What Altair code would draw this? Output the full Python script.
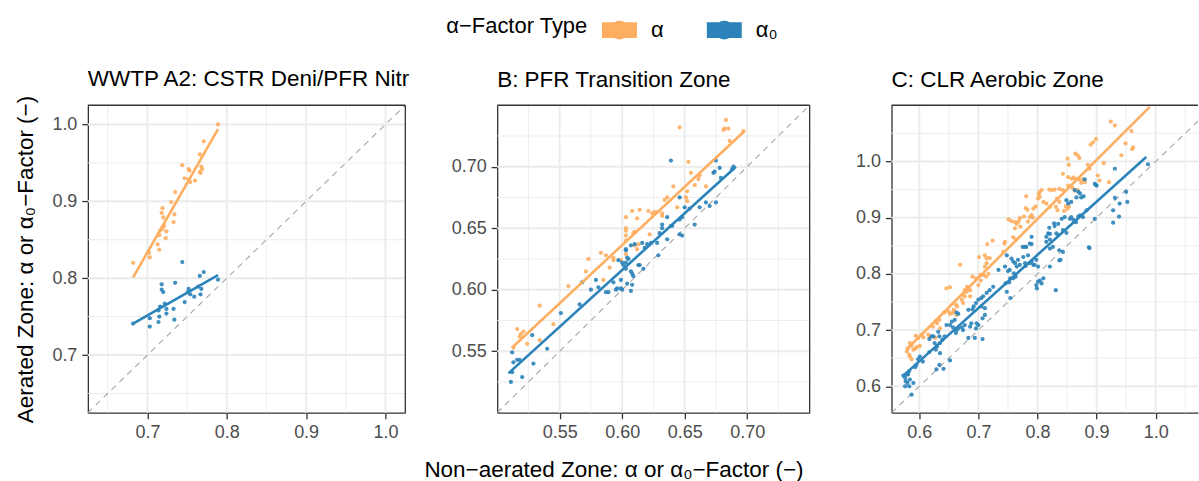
import altair as alt
import pandas as pd

FONT = "Liberation Sans"
TYPES = ["α", "α₀"]
COLORS = ["#FDAE61", "#2B83BA"]

# ---------------- Panel A ----------------
A_alpha = [(0.789,1.000),(0.771,0.978),(0.766,0.961),(0.744,0.947),(0.752,0.942),(0.753,0.940),
           (0.768,0.945),(0.769,0.942),(0.767,0.937),(0.766,0.938),(0.747,0.930),(0.760,0.927),
           (0.754,0.925),(0.752,0.929),(0.735,0.912),(0.730,0.899),(0.719,0.891),(0.718,0.885),
           (0.720,0.879),(0.734,0.883),(0.733,0.873),(0.721,0.868),(0.719,0.864),(0.716,0.862),
           (0.715,0.856),(0.724,0.861),(0.723,0.852),(0.713,0.844),(0.715,0.837),(0.702,0.833),
           (0.703,0.827),(0.682,0.820)]
A_alpha0 = [(0.744,0.821),(0.771,0.808),(0.766,0.803),(0.789,0.798),(0.735,0.794),(0.718,0.792),
            (0.718,0.785),(0.720,0.782),(0.764,0.789),(0.768,0.786),(0.767,0.779),(0.752,0.786),
            (0.754,0.779),(0.751,0.782),(0.759,0.776),(0.747,0.769),(0.722,0.767),(0.724,0.760),
            (0.716,0.763),(0.714,0.758),(0.733,0.760),(0.724,0.754),(0.703,0.748),(0.715,0.750),
            (0.714,0.743),(0.734,0.746),(0.682,0.741),(0.703,0.737)]
A_fit_alpha = [(0.682,0.801),(0.789,0.994)]
A_fit_alpha0 = [(0.682,0.741),(0.789,0.804)]

# ---------------- Panel B ----------------
B_alpha = [(0.646,0.732),(0.683,0.738),(0.681,0.730),(0.682,0.731),(0.685,0.731),(0.686,0.721),
           (0.697,0.729),(0.653,0.704),(0.655,0.695),(0.662,0.693),(0.661,0.690),(0.658,0.685),
           (0.667,0.684),(0.641,0.684),(0.634,0.673),(0.636,0.675),(0.652,0.680),(0.651,0.675),
           (0.652,0.672),(0.644,0.667),(0.632,0.660),(0.632,0.662),(0.628,0.663),(0.621,0.664),
           (0.624,0.662),(0.626,0.663),(0.608,0.664),(0.614,0.665),(0.612,0.658),(0.603,0.659),
           (0.603,0.650),(0.603,0.648),(0.603,0.644),(0.603,0.640),(0.609,0.646),(0.610,0.647),
           (0.622,0.645),(0.613,0.637),(0.612,0.633),(0.603,0.629),(0.610,0.636),(0.583,0.630),
           (0.587,0.628),(0.593,0.626),(0.593,0.624),(0.599,0.624),(0.590,0.618),(0.573,0.625),
           (0.571,0.615),(0.557,0.603),(0.585,0.608),(0.534,0.587),(0.545,0.572),(0.516,0.568),
           (0.521,0.566),(0.519,0.564),(0.518,0.562),(0.524,0.556),(0.534,0.559),(0.513,0.553)]
B_alpha0 = [(0.639,0.705),(0.675,0.705),(0.673,0.695),(0.674,0.696),(0.679,0.691),(0.678,0.699),
            (0.688,0.698),(0.689,0.700),(0.662,0.667),(0.654,0.666),(0.646,0.675),(0.648,0.659),
            (0.646,0.657),(0.650,0.667),(0.636,0.659),(0.658,0.653),(0.667,0.671),(0.675,0.671),
            (0.670,0.668),(0.639,0.652),(0.640,0.652),(0.646,0.645),(0.648,0.644),(0.636,0.641),
            (0.632,0.653),(0.632,0.650),(0.630,0.646),(0.629,0.628),(0.628,0.638),(0.623,0.638),
            (0.620,0.637),(0.618,0.634),(0.616,0.638),(0.613,0.620),(0.617,0.617),(0.614,0.620),
            (0.607,0.636),(0.610,0.637),(0.603,0.633),(0.603,0.632),(0.604,0.626),(0.603,0.622),
            (0.605,0.625),(0.597,0.624),(0.600,0.622),(0.601,0.620),(0.603,0.617),(0.608,0.613),
            (0.609,0.611),(0.607,0.615),(0.599,0.608),(0.604,0.605),(0.593,0.606),(0.596,0.601),
            (0.595,0.600),(0.600,0.600),(0.607,0.599),(0.599,0.601),(0.589,0.598),(0.587,0.598),
            (0.581,0.602),(0.579,0.608),(0.575,0.600),(0.566,0.588),(0.568,0.606),(0.551,0.581),
            (0.540,0.552),(0.528,0.563),(0.529,0.540),(0.516,0.543),(0.518,0.543),(0.513,0.541),
            (0.512,0.549),(0.520,0.529),(0.511,0.525),(0.512,0.533),(0.608,0.604)]
B_fit_alpha = [(0.512,0.553),(0.698,0.729)]
B_fit_alpha0 = [(0.509,0.532),(0.691,0.700)]

# ---------------- Panel C ----------------
C_alpha = [(0.924,1.071),(0.931,1.064),(0.959,1.054),(0.962,1.025),(0.960,1.022),(0.949,1.032),
           (0.942,1.011),(0.899,1.040),(0.894,1.034),(0.890,1.030),(0.868,1.011),(0.871,1.006),
           (0.864,1.014),(0.851,1.005),(0.853,0.994),(0.885,0.994),(0.888,0.987),(0.912,0.997),
           (0.902,0.975),(0.921,0.963),(0.852,0.972),(0.858,0.969),(0.861,0.971),(0.866,0.969),
           (0.870,0.968),(0.877,0.968),(0.880,0.963),(0.874,0.962),(0.905,0.966),(0.843,0.978),
           (0.852,0.957),(0.859,0.953),(0.863,0.948),(0.868,0.949),(0.843,0.949),(0.829,0.950),
           (0.837,0.951),(0.820,0.950),(0.824,0.949),(0.804,0.946),(0.807,0.949),(0.781,0.938),
           (0.802,0.942),(0.804,0.937),(0.801,0.934),(0.810,0.928),(0.815,0.925),(0.833,0.934),
           (0.837,0.928),(0.834,0.913),(0.848,0.920),(0.851,0.916),(0.845,0.912),(0.853,0.920),
           (0.831,0.919),(0.821,0.919),(0.797,0.920),(0.793,0.916),(0.780,0.917),(0.783,0.914),
           (0.777,0.902),(0.770,0.899),(0.751,0.897),(0.756,0.894),(0.768,0.893),(0.762,0.892),
           (0.765,0.889),(0.790,0.905),(0.792,0.900),(0.787,0.901),(0.784,0.893),(0.771,0.884),
           (0.762,0.881),(0.759,0.865),(0.764,0.861),(0.744,0.854),(0.724,0.859),(0.715,0.853),
           (0.745,0.857),(0.742,0.839),(0.711,0.833),(0.714,0.828),(0.719,0.828),(0.714,0.819),
           (0.711,0.813),(0.701,0.830),(0.708,0.798),(0.713,0.795),(0.717,0.800),(0.703,0.798),
           (0.669,0.816),(0.690,0.795),(0.696,0.792),(0.704,0.788),(0.700,0.780),(0.681,0.777),
           (0.683,0.774),(0.677,0.771),(0.680,0.768),(0.686,0.771),(0.674,0.763),(0.677,0.760),
           (0.646,0.774),(0.652,0.776),(0.672,0.754),(0.674,0.748),(0.686,0.760),(0.662,0.745),
           (0.664,0.742),(0.658,0.736),(0.660,0.733),(0.655,0.730),(0.649,0.733),(0.652,0.729),
           (0.663,0.727),(0.628,0.715),(0.630,0.712),(0.635,0.703),(0.627,0.686),(0.615,0.692),
           (0.618,0.689),(0.604,0.692),(0.607,0.687),(0.594,0.690),(0.598,0.686),(0.601,0.672),
           (0.596,0.670),(0.593,0.667),(0.584,0.677),(0.587,0.672),(0.581,0.668),(0.579,0.662),
           (0.583,0.656),(0.587,0.648),(0.584,0.653),(0.590,0.665),(0.634,0.718),(0.642,0.731),
           (0.623,0.706)]
C_alpha0 = [(0.987,0.995),(0.931,0.987),(0.950,0.946),(0.928,0.913),(0.938,0.902),(0.952,0.928),
            (0.928,0.891),(0.887,0.847),(0.897,0.898),(0.897,0.960),(0.900,0.957),(0.880,0.968),
            (0.863,0.949),(0.869,0.946),(0.872,0.943),(0.849,0.931),(0.852,0.925),(0.857,0.928),
            (0.878,0.938),(0.874,0.936),(0.866,0.936),(0.883,0.913),(0.872,0.904),(0.877,0.901),
            (0.869,0.902),(0.865,0.892),(0.861,0.896),(0.857,0.901),(0.855,0.898),(0.846,0.901),
            (0.841,0.898),(0.835,0.889),(0.828,0.890),(0.820,0.882),(0.843,0.878),(0.849,0.873),
            (0.832,0.872),(0.835,0.869),(0.829,0.885),(0.818,0.872),(0.821,0.871),(0.815,0.866),
            (0.821,0.861),(0.815,0.857),(0.790,0.866),(0.787,0.854),(0.790,0.853),(0.779,0.848),
            (0.781,0.848),(0.775,0.848),(0.776,0.830),(0.784,0.833),(0.779,0.819),(0.780,0.814),
            (0.790,0.822),(0.787,0.819),(0.793,0.816),(0.821,0.845),(0.826,0.848),(0.837,0.842),
            (0.843,0.839),(0.839,0.825),(0.798,0.825),(0.795,0.816),(0.801,0.813),(0.810,0.792),
            (0.804,0.788),(0.801,0.786),(0.807,0.783),(0.798,0.780),(0.799,0.774),(0.821,0.813),
            (0.831,0.771),(0.748,0.833),(0.756,0.827),(0.759,0.822),(0.762,0.819),(0.767,0.825),
            (0.770,0.816),(0.765,0.813),(0.745,0.813),(0.753,0.807),(0.750,0.805),(0.734,0.807),
            (0.760,0.801),(0.763,0.795),(0.759,0.792),(0.754,0.792),(0.752,0.785),(0.746,0.783),
            (0.748,0.768),(0.754,0.757),(0.725,0.777),(0.719,0.771),(0.714,0.766),(0.708,0.760),
            (0.705,0.757),(0.700,0.754),(0.696,0.748),(0.692,0.742),(0.690,0.737),(0.705,0.742),
            (0.711,0.739),(0.711,0.727),(0.707,0.721),(0.697,0.712),(0.700,0.709),(0.696,0.703),
            (0.688,0.712),(0.686,0.706),(0.683,0.736),(0.694,0.686),(0.707,0.684),(0.677,0.709),
            (0.672,0.705),(0.674,0.700),(0.666,0.703),(0.663,0.700),(0.662,0.695),(0.657,0.705),
            (0.660,0.718),(0.666,0.729),(0.663,0.731),(0.652,0.709),(0.655,0.715),(0.646,0.709),
            (0.643,0.689),(0.639,0.683),(0.635,0.677),(0.632,0.697),(0.634,0.689),(0.624,0.689),
            (0.621,0.689),(0.617,0.684),(0.626,0.677),(0.630,0.671),(0.628,0.665),(0.617,0.661),
            (0.635,0.659),(0.652,0.646),(0.634,0.638),(0.629,0.630),(0.641,0.631),(0.601,0.653),
            (0.598,0.648),(0.606,0.644),(0.595,0.638),(0.593,0.634),(0.583,0.627),(0.581,0.621),
            (0.579,0.621),(0.573,0.619),(0.576,0.615),(0.577,0.609),(0.580,0.606),(0.576,0.600),
            (0.583,0.600),(0.584,0.612),(0.587,0.585),(0.590,0.606),(0.683,0.686),(0.939,0.925),
            (0.931,0.935),(0.899,0.958),(0.888,0.846),(0.837,0.824)]
C_fit_alpha = [(0.578,0.665),(0.990,1.097)]
C_fit_alpha0 = [(0.573,0.619),(0.984,1.008)]

# axis ranges (x, y), ticks and grid values per panel
A_xrange = [0.625, 1.025]
A_yrange = [0.625, 1.025]
A_major = [0.7, 0.8, 0.9, 1.0]
A_minor = [0.65, 0.75, 0.85, 0.95]
B_xrange = [0.50, 0.75]
B_yrange = [0.50, 0.75]
B_major = [0.55, 0.60, 0.65, 0.70]
B_minor = [0.525, 0.575, 0.625, 0.675, 0.725]
C_xrange = [0.553, 1.0716]   # the right part of panel C lies outside the picture
C_yrange = [0.553, 1.10]
C_major = [0.6, 0.7, 0.8, 0.9, 1.0]
C_minor = [0.65, 0.75, 0.85, 0.95, 1.05]

TITLES = ["WWTP A2: CSTR Deni/PFR Nitr", "B: PFR Transition Zone", "C: CLR Aerobic Zone"]
Y_TITLE = "Aerated Zone: α or α₀−Factor (−)"
X_TITLE = "Non−aerated Zone: α or α₀−Factor (−)"
LEGEND_TITLE = "α−Factor Type"

KEY_PATH = ("M-1,-0.45L-0.3,-0.45Q0,-0.62,0.3,-0.45L1,-0.45L1,0.45L0.3,0.45"
            "Q0,0.62,-0.3,0.45L-1,0.45Z")
FRAME = "#333333"

cscale = alt.Scale(domain=TYPES, range=COLORS)
legend = alt.Legend(
    title=LEGEND_TITLE, orient="none", legendX=359, legendY=-93, direction="horizontal",
    titleOrient="left", titleFont=FONT, titleFontSize=22, titleFontWeight="normal",
    titleColor="black", titleBaseline="middle", titlePadding=14,
    labelFont=FONT, labelFontSize=22, labelColor="black", labelOffset=14,
    columnPadding=43, symbolType=KEY_PATH, symbolSize=1225, symbolStrokeWidth=0,
    symbolOpacity=1,
)


def to_df(alpha, alpha0):
    rows = [(x, y, TYPES[0]) for x, y in alpha] + [(x, y, TYPES[1]) for x, y in alpha0]
    return pd.DataFrame(rows, columns=["x", "y", "type"])


def panel(title, alpha, alpha0, fit_a, fit_a0, xr, yr, major, minor, fmt, width, ytitle,
          title_dy, right_border=True):
    pts = to_df(alpha, alpha0)
    fits = to_df(fit_a, fit_a0)
    diag = pd.DataFrame({"x": yr, "y": yr})
    gmaj = pd.DataFrame({"v": major})
    gmin = pd.DataFrame({"v": minor})
    xs = alt.Scale(domain=xr, nice=False, zero=False)
    ys = alt.Scale(domain=yr, nice=False, zero=False)
    xax = alt.Axis(values=major, format=fmt, grid=False)
    yax = alt.Axis(values=major, format=fmt, grid=False, titlePadding=14)
    X = lambda f: alt.X(f, scale=xs, axis=xax, title=None)
    Y = lambda f: alt.Y(f, scale=ys, axis=yax, title=ytitle)
    col = alt.Color("type:N", scale=cscale, legend=legend)

    vmin = alt.Chart(gmin).mark_rule(color="#EBEBEB", strokeWidth=0.9).encode(x=X("v:Q"))
    vmaj = alt.Chart(gmaj).mark_rule(color="#EBEBEB", strokeWidth=1.9).encode(x=X("v:Q"))
    hmin = alt.Chart(gmin).mark_rule(color="#EBEBEB", strokeWidth=0.9).encode(y=Y("v:Q"))
    hmaj = alt.Chart(gmaj).mark_rule(color="#EBEBEB", strokeWidth=1.9).encode(y=Y("v:Q"))
    dl = alt.Chart(diag).mark_line(color="#A6A6A6", strokeWidth=1.1, strokeDash=[6, 5],
                                   clip=True).encode(x=X("x:Q"), y=Y("y:Q"))
    pt = alt.Chart(pts).mark_point(filled=True, size=18, opacity=0.9, clip=True).encode(
        x=X("x:Q"), y=Y("y:Q"), color=col)
    ln = alt.Chart(fits).mark_line(strokeWidth=2.6, clip=True).encode(
        x=X("x:Q"), y=Y("y:Q"), color=col, detail="type:N")
    top = alt.Chart(pd.DataFrame({"v": [yr[1]]})).mark_rule(
        color=FRAME, strokeWidth=1.3).encode(y=Y("v:Q"))
    layers = [vmin, vmaj, hmin, hmaj, dl, pt, ln, top]
    if right_border:
        layers.append(alt.Chart(pd.DataFrame({"v": [xr[1]]})).mark_rule(
            color=FRAME, strokeWidth=1.3).encode(x=X("v:Q")))
    return alt.layer(*layers).properties(
        width=width, height=308,
        title=alt.TitleParams(title, anchor="start", frame="group", font=FONT, fontSize=22.5,
                              fontWeight="normal", color="black", offset=18, dy=title_dy,
                              baseline="alphabetic"),
    )


pA = panel(TITLES[0], A_alpha, A_alpha0, A_fit_alpha, A_fit_alpha0, A_xrange, A_yrange,
           A_major, A_minor, ".1f", 318, Y_TITLE, 31)
pB = panel(TITLES[1], B_alpha, B_alpha0, B_fit_alpha, B_fit_alpha0, B_xrange, B_yrange,
           B_major, B_minor, ".2f", 313, None, 23)
pC = panel(TITLES[2], C_alpha, C_alpha0, C_fit_alpha, C_fit_alpha0, C_xrange, C_yrange,
           C_major, C_minor, ".1f", 307, None, 23, right_border=False)

chart = alt.hconcat(
    pA, alt.hconcat(pB, pC, spacing=82, bounds="flush"), spacing=92, bounds="flush"
).properties(
    title=alt.TitleParams(X_TITLE, orient="bottom", anchor="middle", font=FONT, fontSize=22.5,
                          fontWeight="normal", color="black", dx=7, offset=17),
    padding={"left": 14, "top": 12, "right": 0, "bottom": 0},
    background="white",
).configure_view(stroke=None).configure_axis(
    domain=True, domainColor=FRAME, domainWidth=1.3,
    tickColor=FRAME, tickWidth=1.3, tickSize=6, labelPadding=5,
    labelFont=FONT, labelFontSize=18, labelColor="#4D4D4D", titleFont=FONT,
    titleFontSize=22.5, titleFontWeight="normal", titleColor="black",
)

chart.save("out.html", embed_options={"renderer": "svg", "actions": False})
